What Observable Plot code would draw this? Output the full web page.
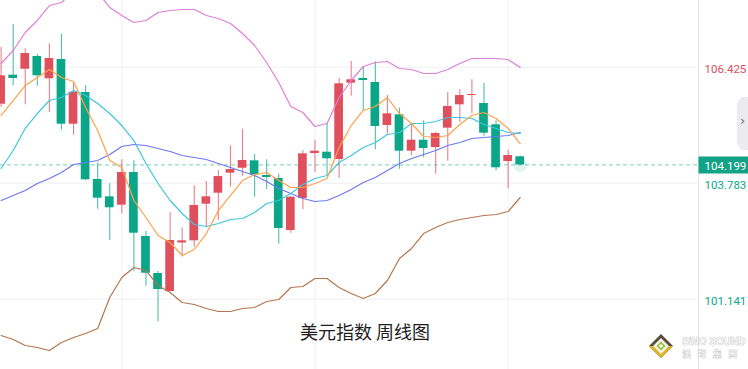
<!DOCTYPE html>
<html><head><meta charset="utf-8">
<script src="https://cdn.jsdelivr.net/npm/d3@7"></script>
<script src="https://cdn.jsdelivr.net/npm/@observablehq/plot@0.6"></script>
<style>
html,body{margin:0;padding:0;background:#fff;}
#wrap{position:relative;width:748px;height:369px;overflow:hidden;background:#fff;}
#wrap svg{display:block;}
#tab{position:absolute;left:737px;top:97px;width:11px;height:53px;background:#ebebf0;
  clip-path:polygon(40% 0,100% 0,100% 100%,40% 100%,0 88%,0 12%);}
#tab span{position:absolute;left:3px;top:16px;font:13px "DejaVu Sans",sans-serif;color:#6a6a72;}
#logo{position:absolute;left:648px;top:332px;width:100px;height:30px;}
</style></head><body>
<div id="wrap"></div>
<script>
// ---- data (weekly US Dollar Index) ----
const open  = [105.582,106.243,106.379,106.669,106.161,106.600,105.127,105.849,103.867,103.473,103.282,104.027,102.569,101.726,101.316,102.421,102.471,103.305,103.555,104.011,104.124,104.293,103.958,103.890,102.706,103.434,104.459,104.489,104.323,106.060,106.168,106.076,105.097,105.341,104.512,104.762,104.596,105.036,105.568,105.780,105.598,105.113,104.277,104.384];
const close = [106.229,106.168,106.737,106.229,106.623,105.127,105.855,103.860,103.441,103.223,104.027,102.644,101.733,101.362,102.478,102.471,103.275,103.473,103.935,104.095,104.300,103.974,103.913,102.751,103.464,104.452,104.512,104.339,106.047,106.138,106.122,105.074,105.364,104.512,104.762,104.573,104.915,105.530,105.780,105.803,104.922,104.134,104.414,104.199];
const high  = [106.880,107.397,106.844,106.714,106.958,107.176,106.060,106.001,104.248,103.769,104.316,104.293,102.690,101.772,103.122,102.763,103.724,103.822,104.072,104.635,105.013,104.437,104.316,103.988,103.480,104.521,104.762,105.143,106.174,106.555,106.418,106.548,105.780,105.491,105.136,105.204,104.944,105.849,105.917,106.138,106.054,105.204,104.534,104.400];
const low   = [105.514,106.001,105.568,105.992,105.393,104.990,104.876,103.850,103.191,102.485,103.086,101.779,101.437,100.626,101.310,102.102,102.325,102.781,102.933,103.692,103.942,103.464,103.639,102.394,102.644,103.184,104.027,103.965,103.897,105.764,105.439,104.544,104.899,104.102,104.407,104.361,103.988,104.284,105.165,105.364,104.853,104.065,103.655,104.190];
const ma5   = [105.325,105.666,106.008,106.190,106.373,106.190,106.099,105.507,104.983,104.300,104.140,103.389,103.002,102.592,102.432,102.136,102.273,102.637,103.161,103.503,103.844,103.981,104.027,103.844,103.685,103.685,103.776,103.890,104.596,105.097,105.439,105.530,105.735,105.370,105.143,104.847,104.824,104.869,105.120,105.325,105.393,105.256,105.029,104.687];
const ma10  = [104.118,104.528,105.029,105.370,105.666,105.735,105.894,105.780,105.598,105.370,105.097,104.755,104.232,103.776,103.389,103.093,102.842,102.797,102.865,102.956,102.979,103.116,103.321,103.389,103.548,103.753,103.890,103.958,104.254,104.414,104.596,104.710,104.892,104.938,105.143,105.143,105.188,105.279,105.279,105.256,105.120,105.029,104.938,104.915];
const ma20  = [103.389,103.503,103.617,103.776,103.890,104.027,104.209,104.254,104.300,104.437,104.619,104.664,104.642,104.573,104.505,104.414,104.368,104.323,104.232,104.140,104.049,103.958,103.822,103.662,103.548,103.434,103.366,103.389,103.503,103.639,103.799,103.913,104.072,104.232,104.345,104.437,104.528,104.642,104.710,104.801,104.824,104.847,104.869,104.938];
const bollUp = [106.509,106.805,107.215,107.489,107.830,107.898,108.149,108.149,108.126,107.785,107.602,107.443,107.489,107.671,107.716,107.739,107.739,107.602,107.534,107.420,107.192,106.919,106.532,106.076,105.530,105.393,105.074,105.143,105.735,106.122,106.441,106.532,106.555,106.395,106.373,106.281,106.281,106.373,106.509,106.623,106.623,106.623,106.600,106.418];
const bollDn = [100.314,100.223,100.086,100.041,99.972,100.155,100.269,100.360,100.474,101.180,101.635,101.863,101.795,101.453,101.293,101.066,101.020,100.929,100.861,100.861,100.929,100.952,101.088,101.134,101.407,101.430,101.612,101.612,101.407,101.271,101.157,101.271,101.567,102.068,102.296,102.637,102.774,102.888,102.956,103.002,103.047,103.070,103.138,103.457];
const yTickValues = [106.425, 103.783, 101.141];
const gridWeeks = [10, 26, 42];
const lastPrice = 104.199;
const title = "美元指数 周线图";

// ---- styles ----
const RED = "#e0505c", GREEN = "#0ba687";
const candles = open.map((o, i) => ({i, o, c: close[i], h: high[i], l: low[i], up: close[i] >= o}));
const boxSymbol = {draw(ctx) { ctx.rect(0, -8.5, 50, 17); }};
const lineOpts = (color) => ({x: (d, i) => i, y: d => d, stroke: color, strokeWidth: 1.2});

const chart = Plot.plot({
  width: 748, height: 369,
  marginLeft: 0, marginRight: 50, marginTop: 0, marginBottom: 0,
  x: {domain: [-0.05, 57.77], axis: null},
  y: {domain: [99.54, 107.944], axis: null},
  color: {type: "identity"},
  style: {background: "#fff", fontFamily: "Roboto, 'Noto Sans', sans-serif"},
  marks: [
    Plot.ruleY(yTickValues, {stroke: "#efeff2"}),
    Plot.ruleX(gridWeeks, {stroke: "#f1f1f4"}),
    Plot.frame({anchor: "right", stroke: "#e6e6ea"}),
    Plot.ruleY([lastPrice], {stroke: "#94d9ca", strokeDasharray: "4,3", strokeWidth: 1.3}),
    Plot.ruleX(candles, {x: "i", y1: "l", y2: "h", stroke: d => d.up ? RED : GREEN, strokeOpacity: 0.72, strokeWidth: 1.1}),
    Plot.rect(candles, {x1: d => d.i - 0.36, x2: d => d.i + 0.36, y1: "o", y2: "c", fill: d => d.up ? RED : GREEN}),
    Plot.dot([close[close.length - 1]], {x: () => close.length - 1, y: d => d, r: 7, fill: GREEN, fillOpacity: 0.12}),
    Plot.line(bollUp, lineOpts("#e17fd9")),
    Plot.line(bollDn, lineOpts("#b4764d")),
    Plot.line(ma20, lineOpts("#6d78f4")),
    Plot.line(ma10, lineOpts("#3ec6df")),
    Plot.line(ma5, lineOpts("#ffa04a")),
    Plot.text(yTickValues, {y: d => d, text: d => d.toFixed(3), frameAnchor: "right", dx: 6, dy: 2,
      textAnchor: "start", fill: d => d > lastPrice ? RED : GREEN, fontSize: 11.5}),
    Plot.dot([lastPrice], {y: d => d, frameAnchor: "right", symbol: boxSymbol, fill: "#12a386", stroke: null}),
    Plot.text([lastPrice], {y: d => d, text: d => d.toFixed(3), frameAnchor: "right", dx: 6, dy: 1,
      textAnchor: "start", fill: "#fff", fontSize: 11.5}),
    Plot.text([title], {frameAnchor: "bottom", dx: 15.5, dy: -30.5, fontSize: 18, fill: "#1e1e1e",
      fontFamily: "'Noto Sans CJK SC', sans-serif"})
  ]
});
const wrap = document.getElementById("wrap");
wrap.appendChild(chart);

// side tab
const tab = document.createElement("div");
tab.id = "tab"; tab.innerHTML = "<span>›</span>";
wrap.appendChild(tab);

// watermark logo
const logo = document.createElement("div");
logo.id = "logo";
logo.innerHTML = `<svg width="100" height="30" viewBox="0 0 100 30">
  <g transform="translate(13,14)">
    <polygon points="0,-12 12,0 0,12 -12,0" fill="#5a4a3a"/>
    <polygon points="-12,0 0,12 12,0 6,0 0,6 -6,0" fill="#d8b42a"/>
    <polygon points="0,-8 8,0 0,8 -8,0" fill="#f4f1e6"/>
    <polygon points="0,-4.5 4.5,0 0,4.5 -4.5,0" fill="#9cc43c"/>
    <polygon points="0,-2 2,0 0,2 -2,0" fill="#fff"/>
  </g>
  <text x="34" y="13" font-family="Arial, 'Liberation Sans', sans-serif" font-weight="bold" font-size="10" fill="#f3f3f3" stroke="#b9b9b9" stroke-width="0.6" paint-order="stroke">SiNO SOUND</text>
  <text x="34" y="25" font-family="'Noto Sans CJK TC', sans-serif" font-weight="bold" font-size="8.5" fill="#f3f3f3" stroke="#b9b9b9" stroke-width="0.6" paint-order="stroke" letter-spacing="7">漢聲集團</text>
</svg>`;
wrap.appendChild(logo);
</script>
</body></html>
